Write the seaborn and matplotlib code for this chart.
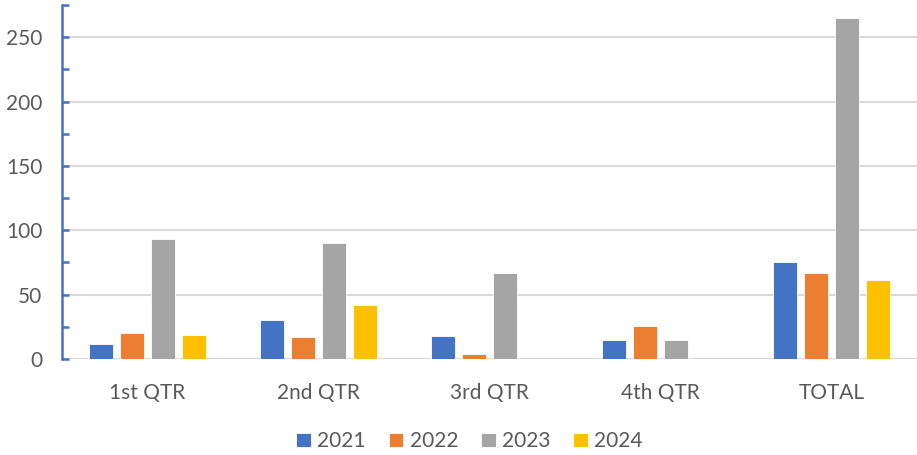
import matplotlib
matplotlib.use("Agg")
import matplotlib.pyplot as plt
from matplotlib.ticker import MultipleLocator
import pandas as pd
import seaborn as sns

quarters = ["1st QTR", "2nd QTR", "3rd QTR", "4th QTR", "TOTAL"]
years = ["2021", "2022", "2023", "2024"]
v2021 = [12, 30, 18, 15, 75]
v2022 = [20, 17, 4, 26, 67]
v2023 = [93, 90, 67, 15, 265]
v2024 = [19, 42, 0, 0, 61]
colors = ["#4472C4", "#ED7D31", "#A5A5A5", "#FFC000"]

rows = []
for year, vals in zip(years, [v2021, v2022, v2023, v2024]):
    for q, v in zip(quarters, vals):
        rows.append({"quarter": q, "year": year, "value": v})
df = pd.DataFrame(rows)

sns.set_style("white")
plt.rcParams["font.family"] = ["Lato", "DejaVu Sans"]

fig = plt.figure(figsize=(9.17, 4.55), dpi=100)
ax = fig.add_axes([0.0676, 0.211, 0.9324, 0.778])

sns.barplot(data=df, x="quarter", y="value", hue="year", order=quarters,
            hue_order=years, palette=colors, saturation=1, width=0.725, gap=0.23,
            edgecolor="white", linewidth=0.6, errorbar=None, ax=ax)

ax.set_xlim(-0.5, 4.5)
ax.set_ylim(0, 275)
ax.yaxis.set_major_locator(MultipleLocator(50))
ax.yaxis.set_minor_locator(MultipleLocator(25))
ax.grid(axis="y", which="major", color="#D9D9D9", linewidth=1.5, zorder=0)
ax.set_axisbelow(True)

for s in ["top", "right", "bottom"]:
    ax.spines[s].set_visible(False)
ax.spines["left"].set_color("#4472C4")
ax.spines["left"].set_linewidth(1.8)

ax.tick_params(axis="y", which="both", left=True, direction="in", length=5, width=1.8,
               color="#4472C4", labelsize=15, labelcolor="#595959", pad=14)
ax.tick_params(axis="x", length=0, labelsize=15, labelcolor="#595959", pad=17)
ax.set_xlabel("")
ax.set_ylabel("")

handles, labels = ax.get_legend_handles_labels()
ax.legend_.remove()
fig.legend(handles, labels, loc="center", bbox_to_anchor=(0.512, 0.03), ncol=4,
           frameon=False, fontsize=15, labelcolor="#595959", handlelength=0.7,
           handleheight=0.7, handletextpad=0.3, columnspacing=1.1)

fig.savefig("out.png", dpi=100)
